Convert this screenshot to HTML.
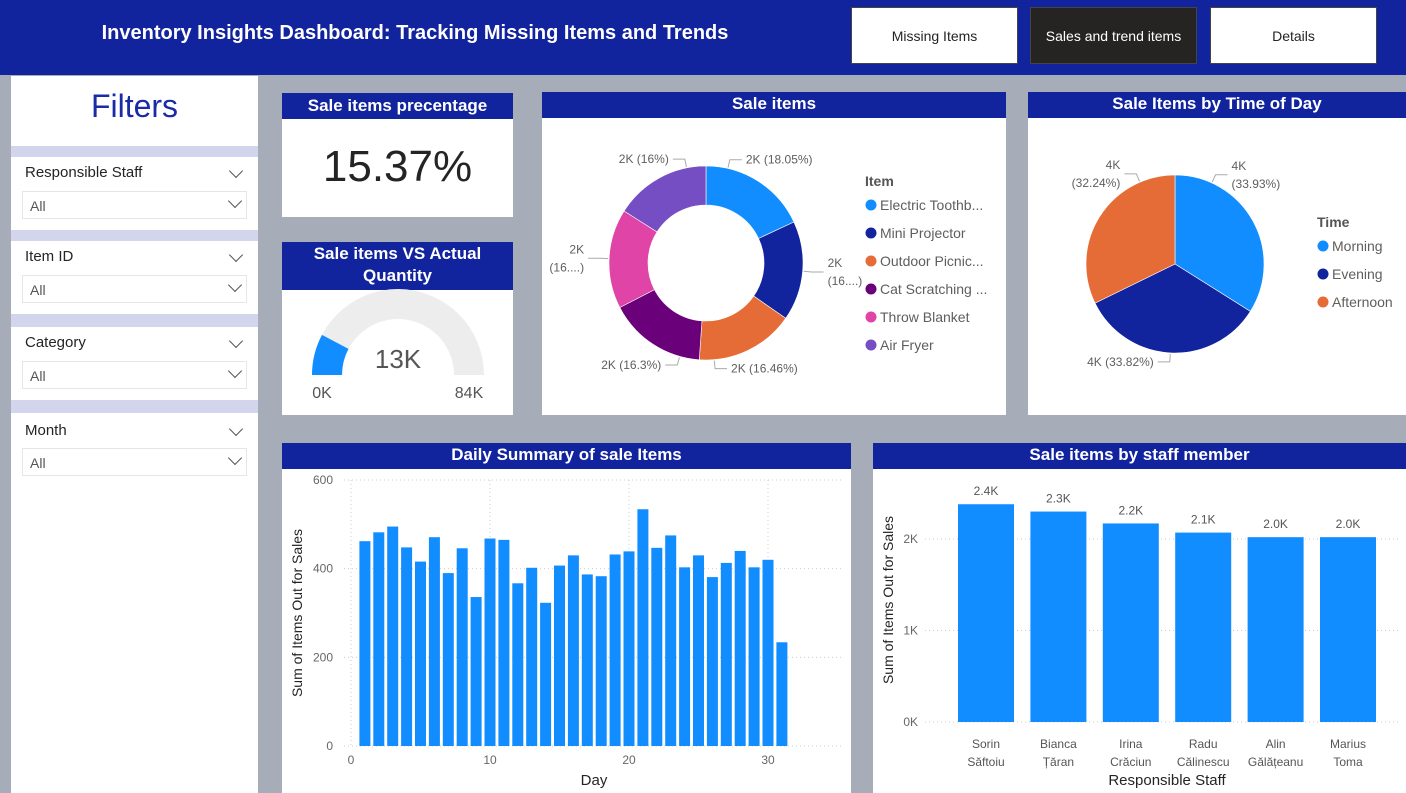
<!DOCTYPE html>
<html><head><meta charset="utf-8">
<style>
*{margin:0;padding:0;box-sizing:border-box}
body{width:1406px;height:793px;overflow:hidden;background:#a6acb8;font-family:"Liberation Sans",sans-serif;position:relative}
.abs{position:absolute}
.hdr{left:0;top:0;width:1406px;height:75px;background:#12239e}
.title{left:0;top:22px;width:830px;text-align:center;color:#fff;font-weight:bold;font-size:20px}
.btn{top:7px;height:57px;width:167px;background:#fff;border:1px solid #444;display:flex;align-items:center;justify-content:center;font-size:14px;color:#252423}
.btn.dark{background:#252423;color:#fff}
.panel{left:11px;top:76px;width:247px;height:717px;background:#fff}
.band{left:11px;width:247px;background:#d2d5ec}
.flab{left:25px;font-size:15px;color:#252423}
.dd{left:22px;width:225px;height:28px;border:1px solid #e6e6e6;font-size:14px;color:#555;padding:6px 0 0 7px}
.chev{position:absolute;right:6px;top:4px;width:10px;height:10px;border-right:1.5px solid #555;border-bottom:1.5px solid #555;transform:rotate(45deg)}
.card{background:#fff}
.ch{background:#12239e;color:#fff;font-weight:bold;font-size:17px;text-align:center}
</style></head><body>
<div class="abs hdr"></div>
<div class="abs title">Inventory Insights Dashboard: Tracking Missing Items and Trends</div>
<div class="abs btn" style="left:851px">Missing Items</div>
<div class="abs btn dark" style="left:1030px">Sales and trend items</div>
<div class="abs btn" style="left:1210px">Details</div>

<div class="abs panel"></div>
<div class="abs" style="left:11px;top:88px;width:247px;text-align:center;font-size:32px;color:#1a2ba8">Filters</div>
<div class="abs band" style="top:146px;height:11px"></div>
<div class="abs band" style="top:230px;height:11px"></div>
<div class="abs band" style="top:314px;height:13px"></div>
<div class="abs band" style="top:400px;height:13px"></div>

<div class="abs flab" style="top:164px">Responsible Staff<span class="chev" style="position:absolute;left:206px;top:2px"></span></div>
<div class="abs dd" style="top:191px">All<span class="chev"></span></div>
<div class="abs flab" style="top:248px">Item ID<span class="chev" style="position:absolute;left:206px;top:2px"></span></div>
<div class="abs dd" style="top:275px">All<span class="chev"></span></div>
<div class="abs flab" style="top:334px">Category<span class="chev" style="position:absolute;left:206px;top:2px"></span></div>
<div class="abs dd" style="top:361px">All<span class="chev"></span></div>
<div class="abs flab" style="top:422px">Month<span class="chev" style="position:absolute;left:206px;top:2px"></span></div>
<div class="abs dd" style="top:448px">All<span class="chev"></span></div>

<div class="abs card" style="left:282px;top:93px;width:231px;height:124px"></div>
<div class="abs ch" style="left:282px;top:93px;width:231px;height:26px;line-height:25px">Sale items precentage</div>
<div class="abs" style="left:282px;top:142px;width:231px;text-align:center;font-size:44px;color:#252423">15.37%</div>

<div class="abs card" style="left:282px;top:242px;width:231px;height:173px"></div>
<div class="abs ch" style="left:282px;top:242px;width:231px;height:48px;line-height:22px;padding-top:1px">Sale items VS Actual<br>Quantity</div>

<div class="abs card" style="left:542px;top:92px;width:464px;height:323px"></div>
<div class="abs ch" style="left:542px;top:92px;width:464px;height:26px;line-height:24px">Sale items</div>
<div class="abs card" style="left:1028px;top:92px;width:378px;height:323px"></div>
<div class="abs ch" style="left:1028px;top:92px;width:378px;height:26px;line-height:24px">Sale Items by Time of Day</div>
<div class="abs card" style="left:282px;top:443px;width:569px;height:350px"></div>
<div class="abs ch" style="left:282px;top:443px;width:569px;height:26px;line-height:24px">Daily Summary of sale Items</div>
<div class="abs card" style="left:873px;top:443px;width:533px;height:350px"></div>
<div class="abs ch" style="left:873px;top:443px;width:533px;height:26px;line-height:24px">Sale items by staff member</div>

<svg id="sv" class="abs" style="left:0;top:0" width="1406" height="793" font-family="Liberation Sans, sans-serif"></svg>

<script>
// Gauge
const gaugeValue = 13;
const gaugeMax = 84;
// Donut
const itemNames = ["Electric Toothb...","Mini Projector","Outdoor Picnic...","Cat Scratching ...","Throw Blanket","Air Fryer"];
const itemShares = [18.05,16.6,16.46,16.3,16.59,16.0];
const itemLabels = ["2K (18.05%)","2K\n(16....)","2K (16.46%)","2K (16.3%)","2K\n(16....)","2K (16%)"];
const itemColors = ["#118dff","#12239e","#e66c37","#6b007b","#e044a7","#744ec2"];
// Pie
const timeNames = ["Morning","Evening","Afternoon"];
const timeShares = [33.93,33.82,32.24];
const timeLabels = ["4K\n(33.93%)","4K (33.82%)","4K\n(32.24%)"];
const timeColors = ["#118dff","#12239e","#e66c37"];
// Daily
const days = [1,2,3,4,5,6,7,8,9,10,11,12,13,14,15,16,17,18,19,20,21,22,23,24,25,26,27,28,29,30,31];
const dailyValues = [462,482,495,448,416,471,390,446,336,468,465,367,402,323,407,430,387,383,432,439,534,447,475,403,430,381,413,440,403,420,234];
const dailyYTicks = [0,200,400,600];
const dailyXTicks = [0,10,20,30];
// Staff
const staffNames = [["Sorin","Săftoiu"],["Bianca","Țăran"],["Irina","Crăciun"],["Radu","Călinescu"],["Alin","Gălățeanu"],["Marius","Toma"]];
const staffValues = [2.38,2.30,2.17,2.07,2.02,2.02];
const staffLabels = ["2.4K","2.3K","2.2K","2.1K","2.0K","2.0K"];
const staffYTicks = [0,1,2];

const sv = document.getElementById('sv');
const NS = 'http://www.w3.org/2000/svg';
function mk(tag, attrs, text){
  const e = document.createElementNS(NS, tag);
  for (const k in attrs) e.setAttribute(k, attrs[k]);
  if (text !== undefined) e.textContent = text;
  sv.appendChild(e);
  return e;
}
function arcPath(cx,cy,r0,r1,a0,a1){
  const p=(r,a)=>[cx+r*Math.sin(a),cy-r*Math.cos(a)];
  const large=(a1-a0)>Math.PI?1:0;
  const [x1,y1]=p(r1,a0),[x2,y2]=p(r1,a1);
  if(r0===0) return `M${cx},${cy}L${x1},${y1}A${r1},${r1} 0 ${large} 1 ${x2},${y2}Z`;
  const [x3,y3]=p(r0,a1),[x4,y4]=p(r0,a0);
  return `M${x1},${y1}A${r1},${r1} 0 ${large} 1 ${x2},${y2}L${x3},${y3}A${r0},${r0} 0 ${large} 0 ${x4},${y4}Z`;
}

// Gauge
{
  const cx=398, cy=375, ro=86, ri=56;
  let e=mk('path',{d:arcPath(cx,cy,ri,ro,-Math.PI/2,Math.PI/2),fill:'#ededed'});
  
  
  const a=-Math.PI/2+Math.PI*gaugeValue/gaugeMax;
  e=mk('path',{d:arcPath(cx,cy,ri,ro,-Math.PI/2,a),fill:'#118dff'});
  
  
  e=mk('text',{x:cx,y:368,'text-anchor':'middle','font-size':26,fill:'#555'},gaugeValue+'K');
  
  
  e=mk('text',{x:322,y:398,'text-anchor':'middle','font-size':16,fill:'#555'},'0K');
  
  
  e=mk('text',{x:469,y:398,'text-anchor':'middle','font-size':16,fill:'#555'},gaugeMax+'K');
  
  
}

function putLabel(x,y,anchor,label,base){
  const lines=label.split('\n');
  const t=mk('text',{x:x,y:y+4-(lines.length-1)*9,'text-anchor':anchor,'font-size':12,fill:'#605e5c'});
  
  
  lines.forEach((ln,k)=>{
    const ts=document.createElementNS(NS,'tspan');
    ts.setAttribute('x',x);
    if(k>0) ts.setAttribute('dy',18);
    ts.textContent=ln;
    t.appendChild(ts);
  });
}
function pieChart(cx,cy,ri,ro,shares,colors,labels,nameBase,labelFrac){
  const tot=shares.reduce((a,b)=>a+b,0);
  let a=0;
  shares.forEach((s,i)=>{
    const a1=a+2*Math.PI*s/tot;
    let e=mk('path',{d:arcPath(cx,cy,ri,ro,a,a1),fill:colors[i],stroke:'#fff','stroke-width':0.6});
    
    
    const f=labelFrac?labelFrac[i]:0.5;
    const m=a+(a1-a)*f, sx=Math.sin(m), sy=-Math.cos(m);
    const x1=cx+(ro+1)*sx,y1=cy+(ro+1)*sy,x2=cx+(ro+9)*sx,y2=cy+(ro+9)*sy;
    const right=sx>=0, x3=x2+(right?12:-12);
    e=mk('polyline',{points:`${x1},${y1} ${x2},${y2} ${x3},${y2}`,fill:'none',stroke:'#aaa','stroke-width':1});
    
    
    putLabel(x3+(right?4:-4),y2,right?'start':'end',labels[i],nameBase);
    a=a1;
  });
}
pieChart(706,263,58,97,itemShares,itemColors,itemLabels,'donut',[0.2,0.5,0.85,0.2,0.5,0.8]);
pieChart(1175,264,0,89,timeShares,timeColors,timeLabels,'pie',[0.2,0.5,0.8]);

function legend(x,y,title,names,colors,base){
  let e=mk('text',{x:x,y:y,'font-size':14,'font-weight':'bold',fill:'#555'},title);
  
  
  names.forEach((n,i)=>{
    const yy=y+24+i*28;
    e=mk('circle',{cx:x+6,cy:yy-5,r:5.5,fill:colors[i]});
    
    
    e=mk('text',{x:x+15,y:yy,'font-size':14,fill:'#605e5c'},n);
    
    
  });
}
legend(865,186,'Item',itemNames,itemColors,'item');
legend(1317,227,'Time',timeNames,timeColors,'time');

// Daily bar chart
{
  const y0=746, y1=480, xl=351, xr=842;
  const ys=v=>y0-(v/600)*(y0-y1);
  const xs=d=>xl+d*13.9;
  dailyYTicks.forEach(t=>{
    let e=mk('line',{x1:344,x2:xr,y1:ys(t),y2:ys(t),stroke:'#ccc','stroke-dasharray':'1,3'});
    
    
    e=mk('text',{x:333,y:ys(t)+4,'text-anchor':'end','font-size':12,fill:'#666'},t);
    
    
  });
  dailyXTicks.forEach(t=>{
    let e=mk('line',{x1:xs(t),x2:xs(t),y1:y1,y2:y0,stroke:'#ccc','stroke-dasharray':'1,3'});
    
    
    e=mk('text',{x:xs(t),y:764,'text-anchor':'middle','font-size':12,fill:'#666'},t);
    
    
  });
  days.forEach((d,i)=>{
    const e=mk('rect',{x:xs(d)-5.5,y:ys(dailyValues[i]),width:11,height:y0-ys(dailyValues[i]),fill:'#118dff'});
    
    
  });
  let e=mk('text',{x:594,y:785,'text-anchor':'middle','font-size':15,fill:'#252423'},'Day');
  
  
  e=mk('text',{x:0,y:0,transform:'translate(302,613) rotate(-90)','text-anchor':'middle','font-size':14,fill:'#252423'},'Sum of Items Out for Sales');
  
  
}

// Staff bar chart
{
  const y0=722, per=91.5;
  const ys=v=>y0-v*per;
  const xs=i=>986+i*72.4;
  staffYTicks.forEach(t=>{
    let e=mk('line',{x1:925,x2:1400,y1:ys(t),y2:ys(t),stroke:'#ccc','stroke-dasharray':'1,3'});
    
    
    e=mk('text',{x:918,y:ys(t)+4,'text-anchor':'end','font-size':12,fill:'#666'},t+'K');
    
    
  });
  staffValues.forEach((v,i)=>{
    let e=mk('rect',{x:xs(i)-28,y:ys(v),width:56,height:y0-ys(v),fill:'#118dff'});
    
    
    e=mk('text',{x:xs(i),y:ys(v)-9,'text-anchor':'middle','font-size':12,fill:'#555'},staffLabels[i]);
    
    
    e=mk('text',{x:xs(i),y:748,'text-anchor':'middle','font-size':12,fill:'#555'},staffNames[i][0]);
    
    
    e=mk('text',{x:xs(i),y:766,'text-anchor':'middle','font-size':12,fill:'#555'},staffNames[i][1]);
    
    
  });
  let e=mk('text',{x:1167,y:785,'text-anchor':'middle','font-size':15,fill:'#252423'},'Responsible Staff');
  
  
  e=mk('text',{x:0,y:0,transform:'translate(893,600) rotate(-90)','text-anchor':'middle','font-size':14,fill:'#252423'},'Sum of Items Out for Sales');
  
  
}
</script>
</body></html>
